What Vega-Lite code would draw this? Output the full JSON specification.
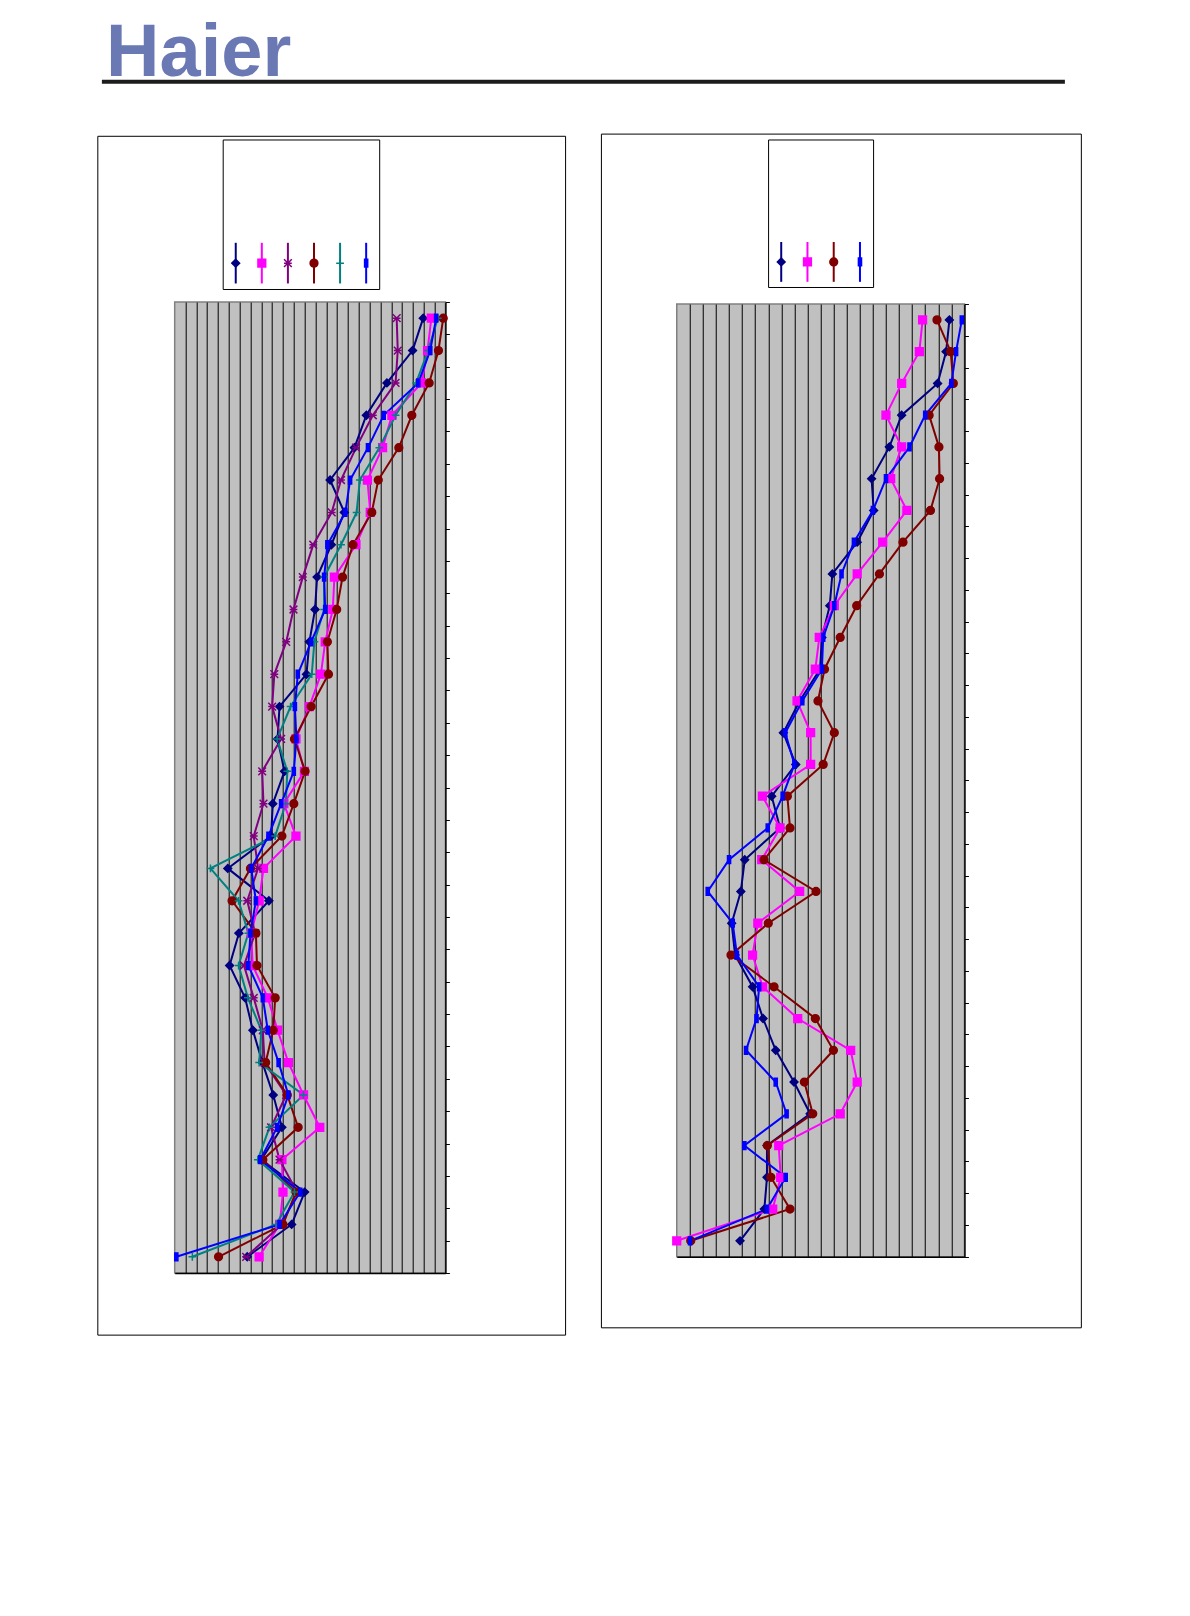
{
  "$schema": "https://vega.github.io/schema/vega-lite/v6.json",
  "background": "white",
  "padding": {"left": 95.7, "top": 16.2, "right": 10, "bottom": 10},
  "config": {"view": {"stroke": null}},
  "datasets": {
    "left": [
      {"row":1,"S1":22.95,"S2":23.7,"S3":20.5,"S4":24.8,"S5":24.3,"S6":24.15},
      {"row":2,"S1":21.97,"S2":23.35,"S3":20.6,"S4":24.36,"S5":23.4,"S6":23.6},
      {"row":3,"S1":19.6,"S2":22.8,"S3":20.4,"S4":23.5,"S5":22.3,"S6":22.5},
      {"row":4,"S1":17.7,"S2":20.06,"S3":18.3,"S4":21.9,"S5":20.4,"S6":19.3},
      {"row":5,"S1":16.6,"S2":19.2,"S3":16.75,"S4":20.7,"S5":18.9,"S6":17.85},
      {"row":6,"S1":14.35,"S2":17.8,"S3":15.36,"S4":18.8,"S5":17.1,"S6":16.2},
      {"row":7,"S1":15.67,"S2":18.06,"S3":14.5,"S4":18.2,"S5":16.8,"S6":15.76},
      {"row":8,"S1":14.47,"S2":16.74,"S3":12.8,"S4":16.47,"S5":15.36,"S6":14.1},
      {"row":9,"S1":13.15,"S2":14.75,"S3":11.83,"S4":15.5,"S5":13.8,"S6":13.8},
      {"row":10,"S1":12.96,"S2":14.6,"S3":10.97,"S4":14.96,"S5":13.8,"S6":13.9},
      {"row":11,"S1":12.44,"S2":13.9,"S3":10.3,"S4":14.1,"S5":12.9,"S6":12.6},
      {"row":12,"S1":12.17,"S2":13.5,"S3":9.2,"S4":14.2,"S5":12.66,"S6":11.37},
      {"row":13,"S1":9.68,"S2":12.44,"S3":9.0,"S4":12.6,"S5":10.7,"S6":11.1},
      {"row":14,"S1":9.5,"S2":11.2,"S3":9.83,"S4":11.06,"S5":9.46,"S6":11.24},
      {"row":15,"S1":10.14,"S2":11.98,"S3":8.08,"S4":12.04,"S5":10.4,"S6":11.0},
      {"row":16,"S1":9.06,"S2":10.08,"S3":8.2,"S4":11.0,"S5":10.26,"S6":9.83},
      {"row":17,"S1":8.9,"S2":11.2,"S3":7.3,"S4":9.9,"S5":9.28,"S6":8.66},
      {"row":18,"S1":4.9,"S2":8.2,"S3":7.7,"S4":7.0,"S5":3.3,"S6":7.07},
      {"row":19,"S1":8.7,"S2":7.8,"S3":6.7,"S4":5.3,"S5":5.9,"S6":7.5},
      {"row":20,"S1":5.93,"S2":7.07,"S3":7.43,"S4":7.5,"S5":6.8,"S6":7.0},
      {"row":21,"S1":5.07,"S2":7.2,"S3":6.4,"S4":7.6,"S5":5.9,"S6":6.8},
      {"row":22,"S1":6.5,"S2":8.6,"S3":7.3,"S4":9.28,"S5":6.76,"S6":8.14},
      {"row":23,"S1":7.22,"S2":9.5,"S3":8.14,"S4":9.1,"S5":8.0,"S6":8.6},
      {"row":24,"S1":8.1,"S2":10.5,"S3":8.3,"S4":8.4,"S5":7.8,"S6":9.6},
      {"row":25,"S1":9.1,"S2":11.9,"S3":10.3,"S4":10.4,"S5":11.9,"S6":10.5},
      {"row":26,"S1":9.9,"S2":13.4,"S3":8.9,"S4":11.4,"S5":8.75,"S6":9.46},
      {"row":27,"S1":8.0,"S2":9.9,"S3":9.68,"S4":8.14,"S5":7.68,"S6":7.9},
      {"row":28,"S1":12.0,"S2":10.0,"S3":11.3,"S4":11.2,"S5":11.06,"S6":11.6},
      {"row":29,"S1":10.8,"S2":9.7,"S3":9.9,"S4":10.0,"S5":9.37,"S6":9.68},
      {"row":30,"S1":6.7,"S2":7.8,"S3":6.6,"S4":4.05,"S5":1.63,"S6":0.15}
    ],
    "right": [
      {"row":1,"S1":20.85,"S2":18.8,"S4":19.9,"S6":21.8},
      {"row":2,"S1":20.6,"S2":18.55,"S4":20.95,"S6":21.36},
      {"row":3,"S1":19.95,"S2":17.2,"S4":21.15,"S6":21.0},
      {"row":4,"S1":17.2,"S2":16.0,"S4":19.3,"S6":19.0},
      {"row":5,"S1":16.26,"S2":17.2,"S4":20.05,"S6":17.8},
      {"row":6,"S1":14.9,"S2":16.36,"S4":20.1,"S6":16.0},
      {"row":7,"S1":15.06,"S2":17.6,"S4":19.4,"S6":15.0},
      {"row":8,"S1":13.8,"S2":15.75,"S4":17.3,"S6":13.55},
      {"row":9,"S1":11.9,"S2":13.8,"S4":15.5,"S6":12.6},
      {"row":10,"S1":11.7,"S2":12.05,"S4":13.76,"S6":12.05},
      {"row":11,"S1":11.1,"S2":10.9,"S4":12.5,"S6":11.2},
      {"row":12,"S1":10.96,"S2":10.6,"S4":11.3,"S6":11.1},
      {"row":13,"S1":9.4,"S2":9.2,"S4":10.8,"S6":9.6},
      {"row":14,"S1":8.15,"S2":10.24,"S4":12.05,"S6":8.3},
      {"row":15,"S1":9.1,"S2":10.24,"S4":11.2,"S6":9.0},
      {"row":16,"S1":7.26,"S2":6.55,"S4":8.46,"S6":8.1},
      {"row":17,"S1":7.9,"S2":7.9,"S4":8.66,"S6":6.96},
      {"row":18,"S1":5.2,"S2":6.5,"S4":6.67,"S6":4.0},
      {"row":19,"S1":4.9,"S2":9.4,"S4":10.65,"S6":2.37},
      {"row":20,"S1":4.2,"S2":6.2,"S4":7.0,"S6":4.28},
      {"row":21,"S1":4.46,"S2":5.8,"S4":4.15,"S6":4.6},
      {"row":22,"S1":5.8,"S2":6.57,"S4":7.44,"S6":6.3},
      {"row":23,"S1":6.6,"S2":9.25,"S4":10.6,"S6":6.1},
      {"row":24,"S1":7.57,"S2":13.3,"S4":11.98,"S6":5.3},
      {"row":25,"S1":8.97,"S2":13.8,"S4":9.76,"S6":7.57},
      {"row":26,"S1":10.2,"S2":12.5,"S4":10.4,"S6":8.4},
      {"row":27,"S1":6.9,"S2":7.8,"S4":6.93,"S6":5.17},
      {"row":28,"S1":6.9,"S2":7.95,"S4":7.2,"S6":8.33},
      {"row":29,"S1":6.7,"S2":7.34,"S4":8.66,"S6":6.9},
      {"row":30,"S1":4.84,"S2":0.0,"S4":1.07,"S6":1.02}
    ],
    "legendLeft": [{"series":"S1"},{"series":"S2"},{"series":"S3"},{"series":"S4"},{"series":"S5"},{"series":"S6"}],
    "legendRight": [{"series":"S1"},{"series":"S2"},{"series":"S4"},{"series":"S6"}]
  },
  "spacing": 41.3,
  "bounds": "full",
  "vconcat": [
    {
      "width": 889.7,
      "height": 2,
      "data": {"values": []},
      "mark": "point",
      "encoding": {
        "x": {"field": "v", "type": "quantitative", "scale": {"domain": [0, 1], "range": [-73.3, 889.7]},
              "axis": {"orient": "bottom", "domain": true, "domainColor": "#1c1c1c", "domainWidth": 4, "ticks": false, "labels": false, "grid": false, "title": null}}
      },
      "title": {"text": "Haier", "anchor": "start", "frame": "group", "orient": "top", "font": "Liberation Sans", "fontWeight": "bold", "fontSize": 74, "color": "#6A78B4", "baseline": "alphabetic", "offset": -70.5, "dx": -68.6}
    },
    {
      "spacing": 31.9,
      "bounds": "full",
      "hconcat": [
        {
          "spacing": -154.5,
          "bounds": "full",
          "vconcat": [
            {
              "spacing": 0,
              "bounds": "flush",
              "hconcat": [
                {"width": 47.2, "height": 1, "data": {"values": []}, "mark": "point"},
                {
                  "width": 156.5,
                  "height": 149.5,
                  "view": {"stroke": "black", "strokeWidth": 1, "fill": "white"},
                  "data": {"name": "legendLeft"},
                  "encoding": {
                    "x": {"field": "series", "type": "nominal", "scale": {"type": "point", "padding": 0.5, "domain": ["S1","S2","S3","S4","S5","S6"]}, "axis": null},
                    "color": {"field": "series", "type": "nominal", "scale": {"domain": ["S1","S2","S3","S4","S5","S6"], "range": ["#000080","#FF00FF","#800080","#800000","#008080","#0000FF"]}, "legend": null}
                  },
                  "layer": [
                    {"mark": {"type": "rule", "strokeWidth": 2}, "encoding": {"y": {"datum": 0.037, "type": "quantitative", "scale": {"domain": [0, 1], "nice": false, "zero": false}, "axis": null}, "y2": {"datum": 0.309}}},
                    {"mark": {"type": "point", "filled": true, "opacity": 1, "strokeWidth": 1.5, "size": 60},
                     "encoding": {
                       "y": {"datum": 0.173, "type": "quantitative"},
                       "stroke": {"field": "series", "type": "nominal", "scale": {"domain": ["S1","S2","S3","S4","S5","S6"], "range": ["#000080","#FF00FF","#800080","#800000","#008080","#0000FF"]}, "legend": null},
                       "shape": {"field": "series", "type": "nominal", "scale": {"domain": ["S1","S2","S3","S4","S5","S6"], "range": ["diamond","square","M-1,-1L1,1M-1,1L1,-1M-1,0L1,0","circle","M-1,0L1,0M0,-1L0,1","M-0.4,-1L0.4,-1L0.4,1L-0.4,1Z"]}, "legend": null}
                     }}
                  ]
                }
              ]
            },
            {
              "width": 270.7,
              "height": 971,
              "view": {"fill": "#C0C0C0", "stroke": "#808080", "strokeWidth": 1.5},
              "layer": [
                {
                  "data": {"values": [{"box": "outer"}]},
                  "mark": {"type": "rect", "fill": "white", "fillOpacity": 0, "stroke": "black", "strokeWidth": 1},
                  "encoding": {
                    "x": {"datum": -7.1, "type": "quantitative"},
                    "x2": {"datum": 36.1},
                    "y": {"datum": -4.62, "type": "quantitative"},
                    "y2": {"datum": 32.42}
                  }
                },
                {
                  "data": {"name": "left"},
                  "transform": [{"fold": ["S1","S2","S3","S4","S5","S6"], "as": ["series","value"]}],
                  "mark": {"type": "line", "strokeWidth": 2},
                  "encoding": {
                    "x": {"field": "value", "type": "quantitative", "scale": {"domain": [0, 25], "nice": false, "zero": false},
                          "axis": {"values": [1,2,3,4,5,6,7,8,9,10,11,12,13,14,15,16,17,18,19,20,21,22,23,24], "tickCount": 200, "grid": true, "gridColor": "black", "gridWidth": 1, "gridOpacity": 1, "ticks": false, "labels": false, "domain": true, "domainColor": "black", "domainWidth": 1.5, "title": null}},
                    "y": {"field": "row", "type": "quantitative", "scale": {"domain": [0.5, 30.5], "reverse": true, "nice": false, "zero": false},
                          "axis": {"orient": "right", "values": [0.5,1.5,2.5,3.5,4.5,5.5,6.5,7.5,8.5,9.5,10.5,11.5,12.5,13.5,14.5,15.5,16.5,17.5,18.5,19.5,20.5,21.5,22.5,23.5,24.5,25.5,26.5,27.5,28.5,29.5,30.5], "tickCount": 200, "ticks": true, "tickSize": 4, "tickColor": "black", "labels": false, "grid": false, "domain": true, "domainColor": "black", "domainWidth": 1.5, "title": null}},
                    "order": {"field": "row", "type": "quantitative"},
                    "color": {"field": "series", "type": "nominal", "scale": {"domain": ["S1","S2","S3","S4","S5","S6"], "range": ["#000080","#FF00FF","#800080","#800000","#008080","#0000FF"]}, "legend": null}
                  }
                },
                {
                  "data": {"name": "left"},
                  "transform": [{"fold": ["S1","S2","S3","S4","S5","S6"], "as": ["series","value"]}],
                  "mark": {"type": "point", "filled": true, "opacity": 1, "strokeWidth": 1.5, "size": 60},
                  "encoding": {
                    "x": {"field": "value", "type": "quantitative"},
                    "y": {"field": "row", "type": "quantitative"},
                    "color": {"field": "series", "type": "nominal", "legend": null},
                    "stroke": {"field": "series", "type": "nominal", "scale": {"domain": ["S1","S2","S3","S4","S5","S6"], "range": ["#000080","#FF00FF","#800080","#800000","#008080","#0000FF"]}, "legend": null},
                    "shape": {"field": "series", "type": "nominal", "scale": {"domain": ["S1","S2","S3","S4","S5","S6"], "range": ["diamond","square","M-1,-1L1,1M-1,1L1,-1M-1,0L1,0","circle","M-1,0L1,0M0,-1L0,1","M-0.4,-1L0.4,-1L0.4,1L-0.4,1Z"]}, "legend": null}
                  }
                }
              ]
            }
          ]
        },
        {
          "spacing": 16.5,
          "bounds": "flush",
          "center": true,
          "vconcat": [
            {
              "width": 105,
              "height": 147.5,
              "view": {"stroke": "black", "strokeWidth": 1, "fill": "white"},
              "data": {"name": "legendRight"},
              "encoding": {
                "x": {"field": "series", "type": "nominal", "scale": {"type": "point", "padding": 0.5, "domain": ["S1","S2","S4","S6"]}, "axis": null},
                "color": {"field": "series", "type": "nominal", "scale": {"domain": ["S1","S2","S3","S4","S5","S6"], "range": ["#000080","#FF00FF","#800080","#800000","#008080","#0000FF"]}, "legend": null}
              },
              "layer": [
                {"mark": {"type": "rule", "strokeWidth": 2}, "encoding": {"y": {"datum": 0.035, "type": "quantitative", "scale": {"domain": [0, 1], "nice": false, "zero": false}, "axis": null}, "y2": {"datum": 0.305}}},
                {"mark": {"type": "point", "filled": true, "opacity": 1, "strokeWidth": 1.5, "size": 60},
                 "encoding": {
                   "y": {"datum": 0.17, "type": "quantitative"},
                   "stroke": {"field": "series", "type": "nominal", "scale": {"domain": ["S1","S2","S3","S4","S5","S6"], "range": ["#000080","#FF00FF","#800080","#800000","#008080","#0000FF"]}, "legend": null},
                   "shape": {"field": "series", "type": "nominal", "scale": {"domain": ["S1","S2","S3","S4","S5","S6"], "range": ["diamond","square","M-1,-1L1,1M-1,1L1,-1M-1,0L1,0","circle","M-1,0L1,0M0,-1L0,1","M-0.4,-1L0.4,-1L0.4,1L-0.4,1Z"]}, "legend": null}
                 }}
              ]
            },
            {
              "width": 287.7,
              "height": 952.7,
              "view": {"fill": "#C0C0C0", "stroke": "#808080", "strokeWidth": 1.5},
              "layer": [
                {
                  "data": {"values": [{"box": "outer"}]},
                  "mark": {"type": "rect", "fill": "white", "fillOpacity": 0, "stroke": "black", "strokeWidth": 1},
                  "encoding": {
                    "x": {"datum": -5.76, "type": "quantitative"},
                    "x2": {"datum": 30.94},
                    "y": {"datum": -4.85, "type": "quantitative"},
                    "y2": {"datum": 32.74}
                  }
                },
                {
                  "data": {"name": "right"},
                  "transform": [{"fold": ["S1","S2","S4","S6"], "as": ["series","value"]}],
                  "mark": {"type": "line", "strokeWidth": 2},
                  "encoding": {
                    "x": {"field": "value", "type": "quantitative", "scale": {"domain": [0, 22], "nice": false, "zero": false},
                          "axis": {"values": [1,2,3,4,5,6,7,8,9,10,11,12,13,14,15,16,17,18,19,20,21], "tickCount": 200, "grid": true, "gridColor": "black", "gridWidth": 1, "gridOpacity": 1, "ticks": false, "labels": false, "domain": true, "domainColor": "black", "domainWidth": 1.5, "title": null}},
                    "y": {"field": "row", "type": "quantitative", "scale": {"domain": [0.5, 30.5], "reverse": true, "nice": false, "zero": false},
                          "axis": {"orient": "right", "values": [0.5,1.5,2.5,3.5,4.5,5.5,6.5,7.5,8.5,9.5,10.5,11.5,12.5,13.5,14.5,15.5,16.5,17.5,18.5,19.5,20.5,21.5,22.5,23.5,24.5,25.5,26.5,27.5,28.5,29.5,30.5], "tickCount": 200, "ticks": true, "tickSize": 4, "tickColor": "black", "labels": false, "grid": false, "domain": true, "domainColor": "black", "domainWidth": 1.5, "title": null}},
                    "order": {"field": "row", "type": "quantitative"},
                    "color": {"field": "series", "type": "nominal", "scale": {"domain": ["S1","S2","S3","S4","S5","S6"], "range": ["#000080","#FF00FF","#800080","#800000","#008080","#0000FF"]}, "legend": null}
                  }
                },
                {
                  "data": {"name": "right"},
                  "transform": [{"fold": ["S1","S2","S4","S6"], "as": ["series","value"]}],
                  "mark": {"type": "point", "filled": true, "opacity": 1, "strokeWidth": 1.5, "size": 60},
                  "encoding": {
                    "x": {"field": "value", "type": "quantitative"},
                    "y": {"field": "row", "type": "quantitative"},
                    "color": {"field": "series", "type": "nominal", "legend": null},
                    "stroke": {"field": "series", "type": "nominal", "scale": {"domain": ["S1","S2","S3","S4","S5","S6"], "range": ["#000080","#FF00FF","#800080","#800000","#008080","#0000FF"]}, "legend": null},
                    "shape": {"field": "series", "type": "nominal", "scale": {"domain": ["S1","S2","S3","S4","S5","S6"], "range": ["diamond","square","M-1,-1L1,1M-1,1L1,-1M-1,0L1,0","circle","M-1,0L1,0M0,-1L0,1","M-0.4,-1L0.4,-1L0.4,1L-0.4,1Z"]}, "legend": null}
                  }
                }
              ]
            }
          ]
        }
      ]
    }
  ]
}
